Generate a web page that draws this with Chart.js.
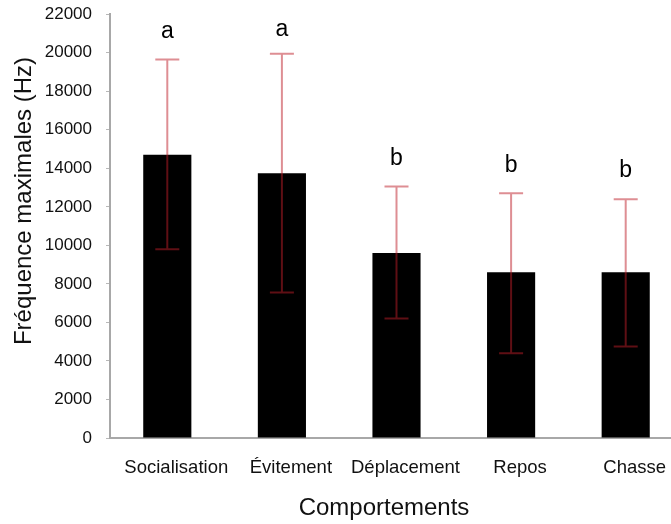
<!DOCTYPE html>
<html>
<head>
<meta charset="utf-8">
<script src="https://cdn.jsdelivr.net/npm/chart.js@4"></script>
<style>
  html, body { margin: 0; padding: 0; background: #fff; overflow: hidden; }
  #wrap { width: 671px; height: 524px; overflow: hidden; }
</style>
</head>
<body>
<div id="wrap"><canvas id="freq-chart" width="683" height="524"></canvas></div>
<script>
// --- Data ---
const CATEGORIES = ['Socialisation', 'Évitement', 'Déplacement', 'Repos', 'Chasse'];
const MEANS = [14700, 13750, 9600, 8600, 8600];
const ERR_HIGH = [19650, 19950, 13050, 12700, 12400];
const ERR_LOW = [9800, 7550, 6200, 4400, 4750];
const LETTERS = ['a', 'a', 'b', 'b', 'b'];
const Y_MIN = 0;
const Y_MAX = 22000;
const Y_STEP = 2000;
const X_TITLE = 'Comportements';
const Y_TITLE = 'Fréquence maximales (Hz)';

const FONT = "'Liberation Sans', Arial, sans-serif";

// error bars + significance letters
const errorBarPlugin = {
  id: 'errorBars',
  afterDatasetsDraw(chart) {
    const ctx = chart.ctx;
    const yScale = chart.scales.y;
    const meta = chart.getDatasetMeta(0);
    ctx.save();
    ctx.strokeStyle = 'rgba(190, 30, 40, 0.5)';
    ctx.lineWidth = 2;
    meta.data.forEach((bar, i) => {
      const x = bar.x;
      const yHi = yScale.getPixelForValue(ERR_HIGH[i]);
      const yLo = yScale.getPixelForValue(ERR_LOW[i]);
      const cap = 12;
      ctx.beginPath();
      ctx.moveTo(x, yHi);
      ctx.lineTo(x, yLo);
      ctx.moveTo(x - cap, yHi);
      ctx.lineTo(x + cap, yHi);
      ctx.moveTo(x - cap, yLo);
      ctx.lineTo(x + cap, yLo);
      ctx.stroke();

      ctx.fillStyle = '#000';
      ctx.font = '23px ' + FONT;
      ctx.textAlign = 'center';
      ctx.textBaseline = 'middle';
      ctx.fillText(LETTERS[i], x, Math.max(yHi - 28, 30));
    });
    ctx.restore();
  }
};

// axis titles (placed a bit off-centre, like the original figure)
const axisTitlePlugin = {
  id: 'axisTitles',
  afterDraw(chart) {
    const ctx = chart.ctx;
    ctx.save();
    ctx.fillStyle = '#111';
    ctx.font = '24px ' + FONT;
    ctx.textAlign = 'center';
    ctx.textBaseline = 'middle';
    ctx.fillText(X_TITLE, 384, 508);
    ctx.translate(24, 201);
    ctx.rotate(-Math.PI / 2);
    ctx.fillText(Y_TITLE, 0, 0);
    ctx.restore();
  }
};

const canvas = document.getElementById('freq-chart');
new Chart(canvas.getContext('2d'), {
  type: 'bar',
  data: {
    labels: CATEGORIES,
    datasets: [{
      data: MEANS,
      backgroundColor: '#000000',
      borderWidth: 0,
      barPercentage: 0.42,
      categoryPercentage: 1.0
    }]
  },
  options: {
    responsive: false,
    animation: false,
    layout: { padding: { left: 4, top: 0, right: 0, bottom: 0 } },
    plugins: {
      legend: { display: false },
      tooltip: { enabled: false }
    },
    scales: {
      x: {
        grid: { display: true, drawOnChartArea: false, drawTicks: false },
        border: { display: true, color: '#a8a8a8', width: 2 },
        ticks: {
          padding: 19,
          labelOffset: 9,
          minRotation: 0,
          maxRotation: 0,
          autoSkip: false,
          color: '#111',
          font: { family: FONT, size: 18.5 }
        },
        afterFit(scale) { scale.height = 86; }
      },
      y: {
        min: Y_MIN,
        max: Y_MAX,
        grid: {
          display: true,
          drawOnChartArea: false,
          drawTicks: true,
          tickLength: 14,
          tickBorderDash: [0, 10, 4, 10],
          tickColor: '#b8b8b8'
        },
        border: { display: true, color: '#a8a8a8', width: 2 },
        ticks: {
          stepSize: Y_STEP,
          padding: 4,
          color: '#111',
          font: { family: FONT, size: 17 },
          callback: (value) => String(value)
        },
        afterFit(scale) { scale.width = 106; }
      }
    }
  },
  plugins: [errorBarPlugin, axisTitlePlugin]
});
</script>
</body>
</html>
